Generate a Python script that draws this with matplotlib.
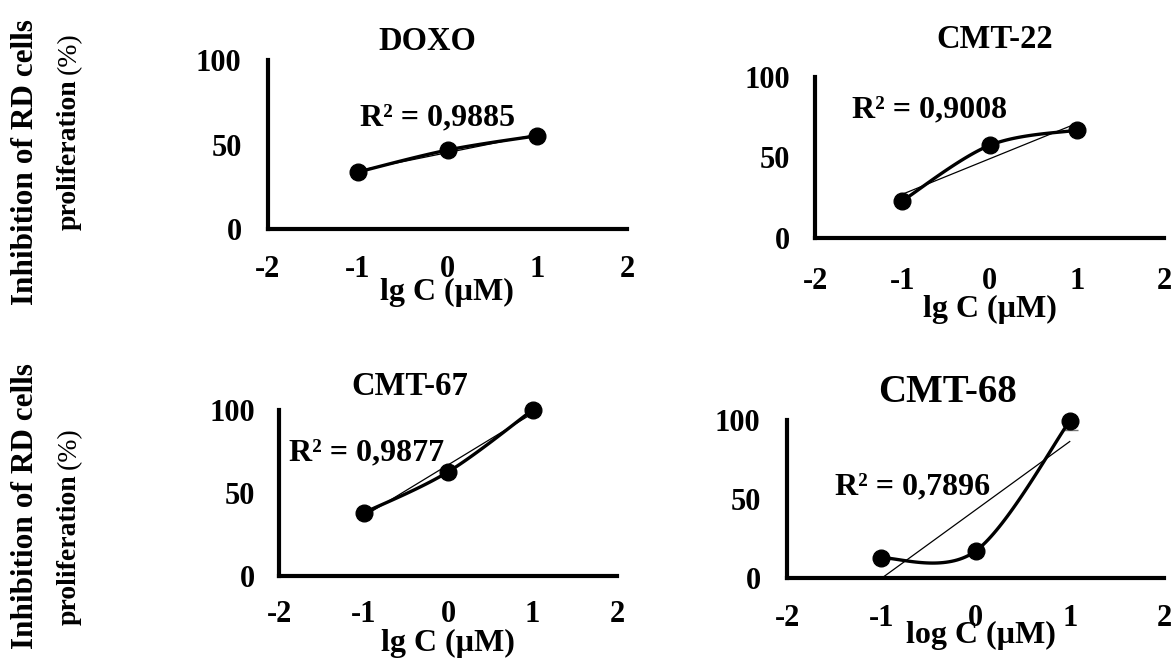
import numpy as np
import matplotlib
matplotlib.use('Agg')
import matplotlib.pyplot as plt

plt.rcParams['font.family'] = ['Liberation Serif', 'DejaVu Serif']
plt.rcParams['font.weight'] = 'bold'

# data
lgC = [-1, 0, 1]
titles = ['DOXO', 'CMT-22', 'CMT-67', 'CMT-68']
inhib_doxo = [33.7, 46.7, 55.2]
inhib_cmt22 = [23.0, 57.5, 67.0]
inhib_cmt67 = [38.0, 62.7, 100.0]
inhib_cmt68 = [12.7, 17.0, 99.4]
err_low_cmt68 = [0, 0, 6]
r2_labels = ['R² = 0,9885', 'R² = 0,9008', 'R² = 0,9877', 'R² = 0,7896']
xlabels = ['lg C (µM)', 'lg C (µM)', 'lg C (µM)', 'log C (µM)']
xticks = [-2, -1, 0, 1, 2]
yticks = [0, 50, 100]

W, H = 1174, 660

def fx(px):
    return px / W

def fy(py):
    return 1 - py / H

def smooth(x, y, n=40):
    # excel-like smoothed line (catmull-rom bezier)
    x = np.asarray(x, float)
    y = np.asarray(y, float)
    px = np.concatenate([[x[0]], x, [x[-1]]])
    py = np.concatenate([[y[0]], y, [y[-1]]])
    xs, ys = [], []
    t = np.linspace(0, 1, n)
    for i in range(1, len(px) - 2):
        p0 = np.array([px[i], py[i]])
        p3 = np.array([px[i + 1], py[i + 1]])
        c1 = p0 + (p3 - np.array([px[i - 1], py[i - 1]])) / 6
        c2 = p3 - (np.array([px[i + 2], py[i + 2]]) - p0) / 6
        b = ((1 - t) ** 3)[:, None] * p0 + (3 * (1 - t) ** 2 * t)[:, None] * c1 \
            + (3 * (1 - t) * t ** 2)[:, None] * c2 + (t ** 3)[:, None] * p3
        xs.extend(b[:, 0])
        ys.extend(b[:, 1])
    return xs, ys

fig = plt.figure(figsize=(11.74, 6.6), dpi=100)

# pixel boxes: left, right, y of 0, y of 100
boxes = [(268, 627, 229, 60), (815, 1164, 238, 77),
         (279, 617, 576, 410), (787, 1164, 578, 420)]
series = [inhib_doxo, inhib_cmt22, inhib_cmt67, inhib_cmt68]
errs = [None, None, None, err_low_cmt68]
title_pos = [(427, 42, 23.5), (995, 40, 23.5), (410, 387, 23.5), (948, 392, 28)]
r2_pos = [(438, 118), (930, 110), (367, 453), (913, 487)]
xlab_pos = [(447, 292), (990, 309), (448, 643), (981, 635)]
ypads = [19, 18, 17, 19]
xpads = [19, 21, 17, 19]

for i in range(4):
    l, r, b, t = boxes[i]
    ax = fig.add_axes([fx(l), fy(b), fx(r - l), (b - t) / H])
    y = series[i]
    # linear trendline
    k, c = np.polyfit(lgC, y, 1)
    xl = np.array([lgC[0], lgC[-1]])
    ax.plot(xl, k * xl + c, color='black', lw=0.9, zorder=2)
    xs, ys = smooth(lgC, y)
    ax.plot(xs, ys, color='black', lw=2.4, zorder=3, clip_on=False)
    if errs[i] is not None:
        ax.errorbar(lgC, y, yerr=[errs[i], [0, 0, 0]], fmt='none',
                    ecolor='#777777', elinewidth=1, capsize=6, zorder=2)
    ax.plot(lgC, y, 'o', color='black', ms=12, zorder=4, clip_on=False)
    ax.set_xlim(-2, 2)
    ax.set_ylim(0, 100)
    ax.set_xticks(xticks)
    ax.set_yticks(yticks)
    ax.set_xticklabels([str(v) for v in xticks])
    ax.tick_params(length=0, labelsize=22)
    ax.tick_params(axis='y', pad=ypads[i])
    ax.tick_params(axis='x', pad=xpads[i])
    for s in ['top', 'right']:
        ax.spines[s].set_visible(False)
    for s in ['left', 'bottom']:
        ax.spines[s].set_linewidth(3.0)
    ax.patch.set_alpha(0)
    tx, ty, ts = title_pos[i]
    fig.text(fx(tx), fy(ty), titles[i], ha='center', va='center', fontsize=ts)
    rx, ry = r2_pos[i]
    fig.text(fx(rx), fy(ry), r2_labels[i], ha='center', va='center', fontsize=23)
    lx, ly = xlab_pos[i]
    fig.text(fx(lx), fy(ly), xlabels[i], ha='center', va='center', fontsize=23)

# left shared labels: (center of line 1, bottom end of line 2)
fig.canvas.draw()
rend = fig.canvas.get_renderer()
for cy, y2 in [(162, 230), (506, 625)]:
    fig.text(fx(26), fy(cy), 'Inhibition of RD cells', rotation=90,
             ha='center', va='center', fontsize=22.5)
    t2 = fig.text(fx(69), fy(y2), 'proliferation', rotation=90,
                  ha='center', va='bottom', fontsize=20)
    top = t2.get_window_extent(rend).y1
    fig.text(fx(69), (top + 5) / H, '(%)', rotation=90,
             ha='center', va='bottom', fontsize=20, fontweight='normal')

fig.savefig('out.png', dpi=100)
